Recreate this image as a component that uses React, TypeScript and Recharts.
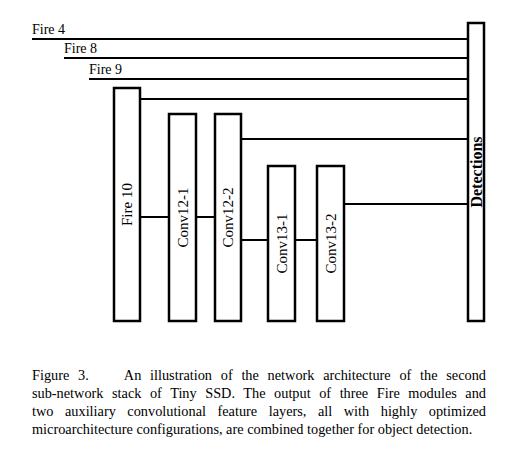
import React from "react";
import { ComposedChart, XAxis, YAxis, ReferenceArea, ReferenceLine } from "recharts";

const boxNames = ["Fire 10", "Conv12-1", "Conv12-2", "Conv13-1", "Conv13-2", "Detections"];
const boxX1 = [114, 169, 215, 268, 317, 468];
const boxX2 = [140, 196, 241, 295, 344, 484];
const boxY1 = [88, 114, 114, 166, 166, 23];
const boxY2 = [321, 321, 321, 321, 321, 321];

const feedNames = ["Fire 4", "Fire 8", "Fire 9", "", "", ""];
const feedX1 = [32, 64, 89, 140, 241, 344];
const feedY = [39, 58, 79, 99, 139, 204];
const detX = 468;

const chainX1 = [140, 196, 241, 295];
const chainX2 = [169, 215, 268, 317];
const chainY = [217, 217, 240, 240];

const caption = [
  "Figure 3.\u00a0\u00a0\u00a0\u00a0An illustration of the network architecture of the second",
  "sub-network stack of Tiny SSD. The output of three Fire modules and",
  "two auxiliary convolutional feature layers, all with highly optimized",
  "microarchitecture configurations, are combined together for object detection.",
];

const serif = "'Liberation Serif', 'DejaVu Serif', serif";

const rotLabel = (name: string, bold: boolean) => (props: any) => {
  const vb = props.viewBox || {};
  const cx = vb.x + vb.width / 2;
  const cy = vb.y + vb.height / 2;
  return (
    <text x={cx} y={cy} transform={`rotate(-90 ${cx} ${cy})`} textAnchor="middle" dominantBaseline="central"
      fontFamily={serif} fontSize={bold ? 16 : 15} fontWeight={bold ? "bold" : "normal"} fill="#000">
      {name}
    </text>
  );
};

const feedLabel = (name: string) => (props: any) => {
  const vb = props.viewBox || {};
  return (
    <text x={vb.x} y={vb.y - 5} fontFamily={serif} fontSize={14} fill="#000">{name}</text>
  );
};

export default function App() {
  return (
    <div style={{ position: "absolute", left: 0, top: 0, width: 524, height: 450, background: "#fff" }}>
      <ComposedChart width={524} height={340} data={[]} margin={{ top: 0, right: 0, bottom: 0, left: 0 }}>
        <XAxis type="number" dataKey="x" domain={[0, 524]} hide allowDataOverflow />
        <YAxis type="number" domain={[0, 340]} reversed hide allowDataOverflow />
        {feedY.map((y, i) => (
          <ReferenceLine key={"f" + i} segment={[{ x: feedX1[i], y }, { x: detX, y }]} stroke="#000" strokeWidth={2}
            ifOverflow="visible" label={feedNames[i] ? feedLabel(feedNames[i]) : undefined} />
        ))}
        {chainY.map((y, i) => (
          <ReferenceLine key={"c" + i} segment={[{ x: chainX1[i], y }, { x: chainX2[i], y }]} stroke="#000" strokeWidth={2} ifOverflow="visible" />
        ))}
        {boxNames.map((n, i) => (
          <ReferenceArea key={"b" + i} x1={boxX1[i]} x2={boxX2[i]} y1={boxY1[i]} y2={boxY2[i]} fill="#fff" fillOpacity={1}
            stroke="#000" strokeWidth={2.5} ifOverflow="visible" label={rotLabel(n, n === "Detections")} />
        ))}
      </ComposedChart>
      <div style={{ position: "absolute", left: 32, top: 366, width: 454, fontFamily: serif, fontSize: 14.3, lineHeight: "18px", color: "#000" }}>
        {caption.map((l, i) => (
          <div key={i} style={{ textAlign: "justify", textAlignLast: i < caption.length - 1 ? "justify" : "left", whiteSpace: "nowrap" as any }}>{l}</div>
        ))}
      </div>
    </div>
  );
}
